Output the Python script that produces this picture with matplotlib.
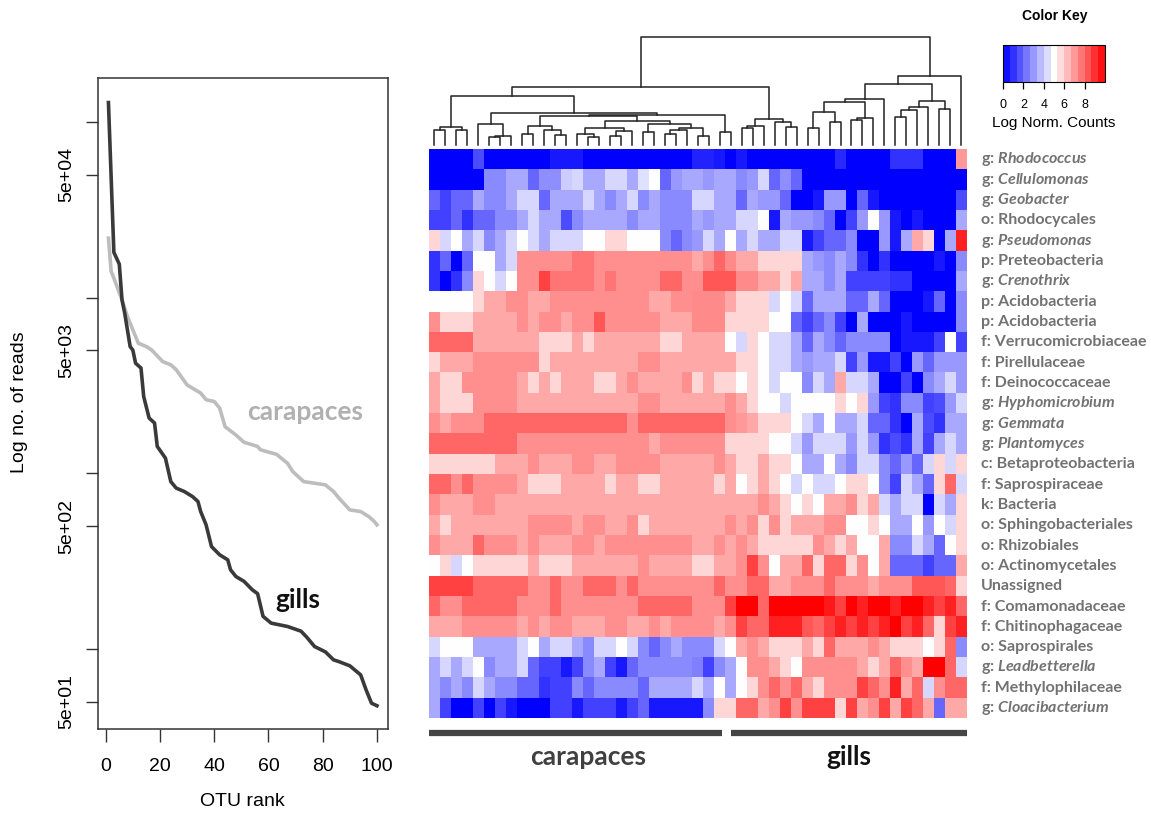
import numpy as np
import matplotlib
matplotlib.use('Agg')
import matplotlib.pyplot as plt
from matplotlib.colors import LinearSegmentedColormap, Normalize
from matplotlib.ticker import NullLocator

plt.rcParams['font.family'] = ['Liberation Sans', 'DejaVu Sans']
plt.rcParams['mathtext.fontset'] = 'custom'
plt.rcParams['mathtext.rm'] = 'Lato:bold'
plt.rcParams['mathtext.it'] = 'Lato:bold:italic'

# ---- rank abundance curves ----
gills_rank = [1, 3, 5, 6, 7, 9, 10, 11, 13, 14, 16, 18, 19, 22, 24, 26, 29, 32, 34, 35,
              37, 39, 42, 45, 46, 48, 51, 54, 56, 58, 61, 67, 72, 74, 77, 81, 84, 86, 90, 94,
              96, 98, 100]
gills_reads = [129000, 18100, 15500, 9700, 8150, 5260, 5020, 4230, 3970, 2730,
               2060, 1930, 1420, 1220, 895, 822, 786, 736, 690, 605,
               508, 382, 343, 321, 282, 258, 242, 217, 206, 153,
               140, 134, 126, 117, 103, 96, 86.5, 84.5, 80, 71,
               58.3, 49, 47.4]
car_rank = [1, 2, 3, 6, 8, 12, 15, 17, 21, 24, 26, 30, 35, 37, 40, 42, 44, 48, 51, 56,
            57, 63, 67, 69, 73, 77, 81, 84, 86, 90, 94, 97, 99, 100]
car_reads = [21800, 14100, 12900, 9700, 7800, 5500, 5260, 5020, 4320, 4140,
             3880, 3180, 2860, 2620, 2560, 2350, 1840, 1650, 1500, 1420,
             1360, 1280, 1140, 1020, 895, 877, 858, 786, 721, 618,
             605, 566, 531, 508]
y_ticks = [5e1, 1e2, 5e2, 1e3, 5e3, 1e4, 5e4, 1e5]
y_ticklabels = ['5e+01', '', '5e+02', '', '5e+03', '', '5e+04', '']
x_ticks = [0, 20, 40, 60, 80, 100]

# ---- heatmap ----
tax_rank = ['g', 'g', 'g', 'o', 'g', 'p', 'g', 'p', 'p', 'f', 'f', 'f', 'g', 'g',
            'g', 'c', 'f', 'k', 'o', 'o', 'o', '', 'f', 'f', 'o', 'g', 'f', 'g']
tax_name = ['Rhodococcus', 'Cellulomonas', 'Geobacter', 'Rhodocycales', 'Pseudomonas',
            'Preteobacteria', 'Crenothrix', 'Acidobacteria', 'Acidobacteria',
            'Verrucomicrobiaceae', 'Pirellulaceae', 'Deinococcaceae', 'Hyphomicrobium',
            'Gemmata', 'Plantomyces', 'Betaproteobacteria', 'Saprospiraceae', 'Bacteria',
            'Sphingobacteriales', 'Rhizobiales', 'Actinomycetales', 'Unassigned',
            'Comamonadaceae', 'Chitinophagaceae', 'Saprospirales', 'Leadbetterella',
            'Methylophilaceae', 'Cloacibacterium']

counts = [
    [0, 0, 0, 0, 1.5, 0, 0, 0, 0, 0, 0, 0.5, 0.5, 0.5, 0, 0, 0, 0, 0, 0, 0, 0, 0, 0, 0.7, 0.7, 0.5, 0, 0.5, 0, 0, 0, 0, 0, 0, 0, 0, 0.8, 0, 0, 0, 0, 1, 1, 1, 0, 0, 0, 7],
    [0, 0, 0, 0, 0, 2.7, 2.7, 3.3, 3.3, 2, 2.8, 2.8, 4, 4.2, 3.3, 3.3, 4.2, 4.2, 3.3, 4.4, 5, 2, 3, 3.3, 3.3, 3, 3.3, 3.3, 2.7, 3, 4.2, 2, 2.8, 2, 0, 0, 0, 0, 0, 0, 0, 0, 0, 0, 0, 0, 0, 0, 0],
    [2, 1.3, 2, 2, 3.3, 2.7, 2.7, 3.3, 4.2, 4.2, 2, 3.3, 3.3, 3.3, 4.2, 3.3, 2.7, 3.3, 4.2, 2.7, 3.3, 2.7, 2.7, 2.7, 4.2, 4.2, 3.3, 3.3, 2, 3.3, 3, 3, 2, 0, 0, 0.5, 3, 3, 0, 2, 0.5, 0, 0, 0, 0, 0, 0, 0, 1.5],
    [1.3, 1.3, 2, 1, 2, 2, 2.7, 2.7, 3.3, 4.2, 3.3, 3.3, 1.5, 2.7, 3.3, 3.3, 3.3, 3.3, 2.7, 3.3, 3.3, 2.7, 2.7, 2.7, 3.3, 3, 3.3, 3.3, 4.2, 4.2, 5, 0.5, 3.3, 3, 3, 2.7, 2, 0, 1.3, 3, 5, 3, 0.5, 0, 0.5, 0, 0, 0, 3.3],
    [5.8, 4.2, 5, 3.3, 4.2, 2.7, 3.3, 4.2, 5, 4.2, 3.3, 4.2, 4.2, 4.2, 5, 5, 5.8, 5.8, 5, 5, 5, 2.7, 2, 2.7, 3, 4.2, 3.3, 5, 3.3, 4.2, 3.3, 3.3, 4.2, 4.2, 0.5, 1.3, 2, 2, 2.7, 0, 0, 3, 0.5, 3.3, 6.7, 5.8, 0, 3.3, 9.3],
    [1, 2, 0, 2, 5, 5, 3.3, 4.2, 7.2, 7.2, 7.2, 7.2, 7.2, 7.7, 7.7, 7.2, 7.2, 7.2, 7.2, 7.2, 7.2, 7.2, 7.2, 7.2, 6.7, 7.2, 8, 7.3, 6.7, 6.7, 5.8, 5.8, 5.8, 5.8, 3.3, 3, 2.7, 3.3, 2.7, 1, 0, 1, 0, 0, 0, 0, 0.5, 0, 2.7],
    [1, 0, 1, 2.7, 5.8, 5, 4.2, 5, 7.2, 7.2, 8.7, 7.7, 7.7, 7.7, 7.7, 7.2, 7.7, 7.2, 7.2, 7.2, 7.2, 8, 8, 7.2, 7.2, 8.3, 8.3, 8.3, 7.3, 7.3, 6.7, 6.7, 5.8, 6.7, 3.3, 3.3, 2.7, 3.3, 1.3, 1.3, 1.3, 1.3, 1, 1, 0, 0, 0, 0, 3.3],
    [5, 5, 5, 5, 5.8, 6.7, 6.7, 7.2, 7.2, 6.7, 6.7, 7.2, 7.2, 7.2, 7.2, 7.2, 7.2, 7.2, 7.2, 7.2, 6.7, 6.7, 7.2, 7.2, 7.3, 7.3, 7.3, 6.7, 5.8, 5.8, 5.8, 4.2, 5, 4.2, 2, 3.3, 3.3, 3.3, 2, 2, 3.3, 2, 0, 0, 0, 0.5, 2, 0, 2.7],
    [7.2, 5.8, 5.8, 5.8, 6.7, 6.7, 6.7, 6.7, 7.2, 6.7, 7.2, 7.2, 6.7, 7.2, 7.2, 8.3, 7.2, 7.2, 7.2, 7.2, 7.2, 6.7, 6.7, 6.7, 7.3, 7.3, 7.3, 5.8, 5.8, 5.8, 5.8, 5, 5, 2, 1.3, 2, 2.7, 1.3, 0, 3.3, 0, 0, 0, 0.5, 0, 0, 0, 0, 2.7],
    [8, 8, 8, 8, 6.7, 6.7, 6.7, 6.7, 6.7, 6.7, 5.8, 5.8, 5.8, 6.7, 5.8, 6.7, 6.7, 6.7, 6.7, 6.7, 6.7, 5.8, 5.8, 6.7, 6.7, 6.7, 6.7, 5, 4.2, 5.8, 5, 4.2, 4.2, 3.3, 2, 3.3, 2.7, 2, 2.7, 2.7, 2.7, 2.7, 0, 0.5, 0.5, 0.5, 1.3, 5, 1.3],
    [5.8, 6.7, 6.7, 6.7, 7.2, 7.2, 7.2, 7.2, 7.2, 7.2, 5.8, 6.7, 6.7, 6.7, 6.7, 6.7, 6.7, 6.7, 6.7, 7.2, 7.2, 6.7, 6.7, 6.7, 6.7, 6.7, 6.7, 6.7, 5.8, 5.8, 5, 4.2, 4.2, 3.3, 3, 3.3, 3.3, 4.2, 1.3, 3, 0.5, 0.5, 1.3, 0, 3, 2, 3, 3, 3],
    [6.7, 5.8, 5.8, 7.2, 7.2, 7.2, 7.2, 7.2, 6.7, 5.8, 6.7, 5.8, 6.7, 6.7, 6.7, 5.8, 5.8, 6.7, 7.2, 6.7, 6.7, 6.7, 6.7, 7.2, 5.8, 6.7, 5.8, 5.8, 5, 5.8, 5, 4.2, 5, 5, 2.7, 4.2, 3.3, 6.7, 4.2, 4.2, 3.3, 0, 0, 1.3, 0, 2.7, 3.3, 4.2, 3],
    [6.7, 5.8, 5.8, 5.8, 7.2, 7.2, 7.2, 7.2, 6.7, 6.7, 6.7, 6.7, 6.7, 6.7, 6.7, 6.7, 6.7, 6.7, 6.7, 7.2, 7.2, 6.7, 6.7, 6.7, 6.7, 6.7, 6.7, 7.2, 6.7, 5.8, 5, 5, 4.2, 5, 5, 5, 5, 5.8, 5, 5.8, 3, 1.3, 1, 2.7, 2.7, 1.3, 1.5, 3, 4.2],
    [7.2, 6.7, 7.2, 7.2, 7.2, 8, 8, 8, 8, 8, 8, 8, 8, 8, 8, 8, 8, 8, 7.2, 8, 8, 8, 8, 8, 8, 8, 8, 7.2, 7, 6.7, 5.8, 5.8, 5.8, 5, 4.2, 3.3, 5, 3.3, 3.3, 4.2, 2, 2, 1, 0, 3.3, 1.5, 1, 3.3, 3.3],
    [8, 8, 8, 8, 8, 8, 8, 8, 7.2, 7.2, 7.2, 7.2, 7.2, 7.2, 7.2, 7.2, 7.2, 7.2, 7.2, 7.2, 6.7, 7.2, 7.2, 7.2, 7.2, 7.2, 7.2, 5.8, 5.8, 5.8, 5.8, 5, 5, 4.2, 3, 4.2, 4.2, 4.2, 3, 4.2, 3, 1, 1.5, 1, 3.3, 1.3, 3.3, 4.2, 3.3],
    [5.8, 5.8, 5.8, 5.8, 5.8, 5.8, 6.7, 6.7, 6.7, 7.2, 6.7, 6.7, 6.7, 7.2, 7.2, 6.7, 6.7, 7.2, 7.2, 7.2, 7.2, 6.7, 6.7, 6.7, 6.7, 6.7, 7.2, 6.7, 5.8, 5.8, 6.7, 5.8, 5.8, 5, 3.3, 3.3, 5, 3.3, 2.7, 4.2, 4.2, 2.7, 2, 3, 2, 4.2, 5.8, 4.2, 5.8],
    [8, 8, 7.2, 8, 7.2, 7.2, 7.2, 7.2, 6.7, 5.8, 5.8, 5.8, 6.7, 6.7, 6.7, 6.7, 5.8, 6.7, 6.7, 5.8, 5.8, 6.7, 6.7, 6.7, 6.7, 6.7, 5.8, 6.7, 5, 5.8, 6.7, 5.8, 5, 4.2, 5, 4.2, 4.2, 5, 5.8, 5.8, 5, 2.7, 1.3, 4.2, 3.3, 2, 5.8, 8, 4.2],
    [7.2, 6.7, 6.7, 6.7, 7.2, 7.2, 6.7, 6.7, 6.7, 6.7, 6.7, 6.7, 6.7, 6.7, 6.7, 6.7, 6.7, 6.7, 6.7, 6.7, 6.7, 6.7, 6.7, 6.7, 6.7, 6.7, 6.7, 6.7, 6.7, 6.7, 7.2, 6.7, 5.8, 5, 5.8, 5, 6.7, 6.7, 7.2, 5.8, 6.7, 4.2, 3.3, 4.2, 4.2, 0, 4.2, 3.3, 5.8],
    [6.7, 5.8, 6.7, 6.7, 6.7, 6.7, 6.7, 6.7, 6.7, 7.2, 7.2, 7.2, 7.2, 6.7, 7.2, 7.2, 6.7, 6.7, 7.2, 5.8, 6.7, 6.7, 6.7, 6.7, 6.7, 6.7, 6.7, 7.2, 6.7, 7.2, 5.8, 7.2, 5.8, 6.7, 6.7, 6.7, 7.2, 7.2, 5, 5, 5.8, 5, 3.3, 3.3, 5, 3, 5, 4.2, 5.8],
    [7.2, 6.7, 6.7, 6.7, 8, 7.2, 7.2, 7.2, 6.7, 7.2, 6.7, 6.7, 6.7, 7.2, 7.2, 6.7, 7.2, 7.2, 7.2, 7.2, 7.2, 7.2, 7.2, 7.2, 6.7, 6.7, 7.2, 6.7, 7.2, 6.7, 5.8, 5.8, 5.8, 5.8, 5.8, 7.2, 6.7, 5.8, 6.7, 5, 5, 6.7, 2.7, 2.7, 4.2, 3.3, 2, 5, 5.8],
    [5, 5.8, 4.2, 5, 5.8, 5.8, 5.8, 5.8, 5.8, 6.7, 5.8, 5.8, 5.8, 6.7, 6.7, 6.7, 6.7, 6.7, 6.7, 7.2, 6.7, 6.7, 6.7, 6.7, 5.8, 5.8, 6.7, 6.7, 7.2, 8.7, 7.2, 5, 6.7, 6.7, 8, 5.8, 8, 8, 5.8, 7.2, 5, 6.7, 2, 2, 2, 1.3, 2, 2, 6.7],
    [8.7, 8.7, 8.7, 8.7, 8, 8, 8, 8, 8, 7.2, 7.2, 8, 7.2, 7.2, 8, 8, 8, 7.2, 8, 7.2, 7.2, 7.2, 7.2, 7.2, 7.2, 7.2, 8, 7.2, 7.2, 8, 8, 6.7, 6.7, 7.2, 7.2, 7.2, 8, 7.2, 7.2, 7.2, 6.7, 7.2, 7.2, 7.2, 8.3, 8.3, 8.3, 8, 5.8],
    [8, 7.2, 7.2, 8, 8, 8, 8, 8, 7.2, 7.2, 7.2, 8, 7.2, 7.2, 7.2, 7.2, 7.2, 7.2, 7.2, 8, 8, 8, 8, 8, 7.2, 7.2, 7.2, 8.7, 10, 10, 8, 10, 10, 10, 10, 10, 9.5, 8.7, 10, 9.3, 10, 10, 9.3, 10, 10, 9.3, 8.7, 9.3, 8],
    [6.7, 6.7, 6.7, 7.2, 7.2, 7.2, 7.2, 7.2, 6.7, 7.2, 6.7, 7.2, 7.2, 6.7, 6.7, 6.7, 7.2, 7.2, 6.7, 6.7, 7.2, 6.7, 7.2, 7.2, 7.2, 7.2, 6.7, 7.2, 8.7, 8, 8, 9.3, 9.3, 9.3, 8.3, 8, 8.7, 9.3, 8.7, 9.3, 8.7, 9.3, 10, 8.7, 9.3, 8, 5.8, 8.7, 9.3],
    [4.2, 5, 5, 5, 3.3, 3.3, 3.3, 3.3, 4.2, 5, 3.3, 4.2, 4.2, 3.3, 2.7, 4.2, 4.2, 5, 4.2, 2.7, 2, 2.7, 3.3, 2.7, 2.7, 2.7, 4.2, 5, 6.7, 7.2, 6.7, 5.8, 5.8, 5.8, 6.7, 5.8, 8, 6.7, 6.7, 6.7, 7.2, 6.7, 5.8, 5.8, 5.8, 5, 5.8, 8, 2.7],
    [3.3, 4.2, 3.3, 4.2, 5, 2.7, 3.3, 3.3, 4.2, 2, 1.3, 1.3, 0.5, 1.3, 2.7, 3.3, 1.3, 0.5, 2, 2.7, 2.7, 2.7, 2.7, 2.7, 2.5, 1.3, 2.7, 3.3, 5, 7.2, 7.2, 6.7, 5.8, 5, 7.2, 7.2, 7.2, 7.2, 7.2, 6.7, 5.8, 6.7, 8, 7.2, 6.7, 10, 10, 8, 4.2],
    [3.3, 2.7, 3.3, 2.7, 4.2, 3.3, 2.7, 2.7, 2, 2, 1, 1.3, 1.3, 2.7, 2, 2.7, 2.7, 2.7, 2.7, 2, 3.3, 3.3, 3.3, 3.3, 4.2, 3.3, 5, 3.3, 5, 5.8, 7.2, 8, 7.2, 8, 6.7, 5.8, 7.2, 7.2, 7.2, 8.7, 8, 7.2, 9.3, 6.7, 8, 4.2, 7.2, 8, 8],
    [3.3, 1.3, 0, 0, 1.3, 0, 1.3, 0.5, 0, 0, 0, 1.3, 1.3, 0.5, 1.3, 1.3, 1.3, 0.5, 1.3, 2, 0.5, 0.5, 0.5, 0.5, 0.5, 2.7, 5.8, 5.8, 8, 8, 6.7, 7.2, 8.7, 7.2, 8.7, 8.7, 8.7, 5.8, 8.7, 6.7, 7.2, 8.7, 6.7, 8.7, 8, 6.7, 2, 6.7, 6.7],
]

n_carapaces = 27
n_gills = 22

# column dendrogram: [merge height, left, right], leaves are column indices
col_tree = [10.0,
            [5.37,
             [4.54,
              [1.7, [1.35, 0, 1], [1.4, 2, 3]],
              [2.95,
               [1.9, 4, [0.85, [0.7, 5, 6], 7]],
               [2.8,
                [2.65,
                 [1.76, [0.99, 8, 9], [1.39, 10, [0.9, 11, 12]]],
                 [2.2,
                  [1.57, [1.0, 13, [0.75, 14, 15]], [1.3, [0.8, 16, 17], 18]],
                  [1.9, [1.2, 19, 20], [1.6, [1.4, [1.0, 21, 22], 23], [0.85, 24, 25]]]]],
                [1.2, 26, 27]]]],
             [2.38, [1.79, [1.54, 28, 29], 30], [2.16, 31, [1.7, 32, 33]]]],
            [6.39,
             [5.62,
              [4.26,
               [4.0, [3.06, [1.57, 34, 35], [2.13, 36, 37]], [2.5, [2.31, 38, 39], 40]],
               41],
              [4.04, [3.55, [3.24, [2.62, 42, 43], 44], 45], [3.33, 46, 47]]],
             48]]

W, H = 1151, 816
fig = plt.figure(figsize=(W / 100, H / 100), dpi=100)

# ---------------- left: rank abundance ----------------
ax = fig.add_axes([97.7 / W, 1 - 729.3 / H, 290 / W, 651.3 / H])
ax.plot(car_rank, car_reads, color='#bdbdbd', lw=2.6, solid_joinstyle='round')
ax.plot(gills_rank, gills_reads, color='#3a3a3a', lw=2.6, solid_joinstyle='round')
ax.set_yscale('log')
ax.set_xlim(-2.96, 103.96)
ax.set_ylim(34.8, 1.78e5)
ax.yaxis.set_minor_locator(NullLocator())
ax.set_yticks(y_ticks)
ax.set_yticklabels(y_ticklabels, rotation=90, va='center')
ax.set_xticks(x_ticks)
ax.tick_params(axis='y', length=8.5, width=1, pad=8, labelsize=14, color='#333333')
ax.tick_params(axis='x', length=9, width=1, pad=12, labelsize=14, color='#333333')
for s in ax.spines.values():
    s.set_color('#333333')
    s.set_linewidth(1.1)
ax.text(0.715, 0.487, 'carapaces', transform=ax.transAxes, ha='center', va='center',
        fontsize=19, fontweight='bold', color='#b0b0b0', family='Lato')
ax.text(0.689, 0.1985, 'gills', transform=ax.transAxes, ha='center', va='center',
        fontsize=19, fontweight='bold', color='#111111', family='Lato')
fig.text(20 / W, 1 - 402 / H, 'Log no. of reads', rotation=90, ha='center', va='center', fontsize=14)
fig.text(242 / W, 1 - 801.5 / H, 'OTU rank', ha='center', va='center', fontsize=14)

# ---------------- heatmap ----------------
cmap = LinearSegmentedColormap.from_list('bwr_key', ['#0000ff', '#ffffff', '#ff0000'])
data = np.array(counts)
nrow, ncol = data.shape

axh = fig.add_axes([429 / W, 1 - 718.3 / H, 537.7 / W, 569 / H])
axh.imshow(data, cmap=cmap, vmin=0, vmax=10, aspect='auto', interpolation='nearest',
           extent=(0, ncol, nrow, 0))
axh.set_xlim(0, ncol)
axh.set_ylim(nrow, 0)
axh.set_axis_off()

for i, (rk, nm) in enumerate(zip(tax_rank, tax_name)):
    if rk == '':
        lab = nm
    elif rk == 'g':
        lab = rk + ': $\\mathit{' + nm + '}$'
    else:
        lab = rk + ': ' + nm
    axh.text(ncol + 1.3, i + 0.5, lab, ha='left', va='center', fontsize=11.5,
             fontweight='bold', color='#727272', family='Lato')

# group bars under the heatmap
axh.plot([0, n_carapaces - 0.3], [nrow + 0.72, nrow + 0.72], color='#454545', lw=4.5,
         solid_capstyle='butt', clip_on=False)
axh.plot([n_carapaces + 0.5, n_carapaces + n_gills], [nrow + 0.72, nrow + 0.72], color='#454545',
         lw=4.5, solid_capstyle='butt', clip_on=False)
axh.text(14.5, nrow + 1.9, 'carapaces', ha='center', va='center', fontsize=19,
         fontweight='bold', color='#404040', family='Lato')
axh.text(n_carapaces + 0.5 + (n_gills - 0.5) / 2, nrow + 1.9, 'gills', ha='center', va='center',
         fontsize=19, fontweight='bold', color='#111111', family='Lato')

# ---------------- dendrogram ----------------
axd = fig.add_axes([429 / W, 1 - 145 / H, 537.7 / W, 108 / H])
axd.set_xlim(0, ncol)
axd.set_ylim(0, 10)
axd.set_axis_off()


def draw(node):
    if isinstance(node, int):
        return node + 0.5, 0.0
    h, left, right = node
    xl, hl = draw(left)
    xr, hr = draw(right)
    axd.plot([xl, xl, xr, xr], [hl, h, h, hr], color='#222222', lw=1.1, clip_on=False)
    return (xl + xr) / 2, h


draw(col_tree)

# ---------------- color key ----------------
axk = fig.add_axes([1003 / W, 1 - 82 / H, 102 / W, 37 / H])
sm = plt.cm.ScalarMappable(norm=Normalize(0, 10), cmap=cmap)
cb = fig.colorbar(sm, cax=axk, orientation='horizontal',
                  boundaries=np.linspace(0, 10, 16), ticks=[0, 2, 4, 6, 8])
cb.outline.set_linewidth(0.8)
cb.outline.set_edgecolor('#000000')
axk.tick_params(length=5, width=0.9, pad=7, labelsize=9)
cb.set_label('Log Norm. Counts', fontsize=11, labelpad=4)
fig.text(1055 / W, 1 - 16 / H, 'Color Key', ha='center', va='center', fontsize=10, fontweight='bold')

fig.savefig('out.png', dpi=100)
